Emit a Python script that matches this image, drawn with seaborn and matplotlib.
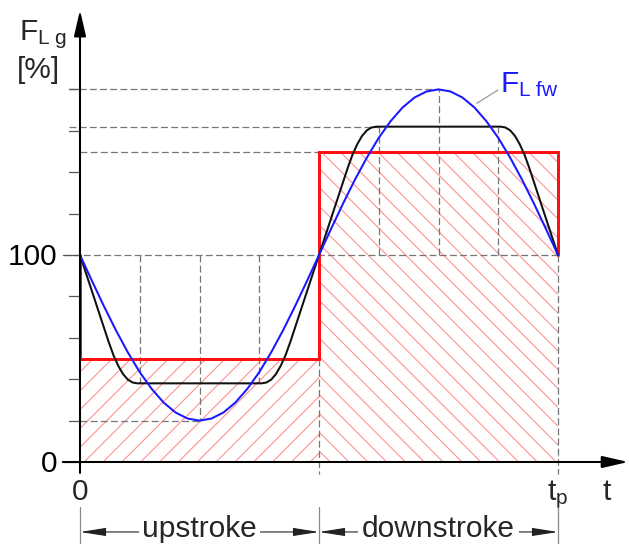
import numpy as np
import pandas as pd
import matplotlib
matplotlib.use("Agg")
import matplotlib.pyplot as plt
import seaborn as sns

# ---------------- data ----------------
blue_t = [0.000, 0.025, 0.050, 0.075, 0.100, 0.125, 0.150, 0.175, 0.200, 0.225, 0.250,
          0.275, 0.300, 0.325, 0.350, 0.375, 0.400, 0.425, 0.450, 0.475, 0.500,
          0.525, 0.550, 0.575, 0.600, 0.625, 0.650, 0.675, 0.700, 0.725, 0.750,
          0.775, 0.800, 0.825, 0.850, 0.875, 0.900, 0.925, 0.950, 0.975, 1.000]
blue_force = [100, 87.5, 75.3, 63.7, 53.0, 43.4, 35.3, 28.7, 23.9, 21.0, 20.0,
              21.0, 23.9, 28.7, 35.3, 43.4, 53.0, 63.7, 75.3, 87.5, 100,
              112.5, 124.7, 136.3, 147.0, 156.6, 164.7, 171.3, 176.1, 179.0, 180.0,
              179.0, 176.1, 171.3, 164.7, 156.6, 147.0, 136.3, 124.7, 112.5, 100]

black_t = [0.00, 0.01, 0.02, 0.03, 0.04, 0.05, 0.06, 0.07, 0.08, 0.09, 0.10, 0.11, 0.12,
           0.38, 0.39, 0.40, 0.41, 0.42, 0.43, 0.44, 0.45, 0.46, 0.47, 0.48, 0.49, 0.50,
           0.51, 0.52, 0.53, 0.54, 0.55, 0.56, 0.57, 0.58, 0.59, 0.60, 0.61, 0.62,
           0.88, 0.89, 0.90, 0.91, 0.92, 0.93, 0.94, 0.95, 0.96, 0.97, 0.98, 0.99, 1.00]
black_force = [100, 93, 86, 79, 72, 65, 58, 51.6, 46.5, 42.5, 39.8, 38.4, 38,
               38, 38.4, 39.8, 42.5, 46.5, 51.6, 58, 65, 72, 79, 86, 93, 100,
               107, 114, 121, 128, 135, 142, 148.4, 153.5, 157.5, 160.2, 161.6, 162,
               162, 161.6, 160.2, 157.5, 153.5, 148.4, 142, 135, 128, 121, 114, 107, 100]

stroke_edges = [0.0, 0.5, 1.0]          # 0, half period, t_p
red_levels = [50, 150]                  # upstroke / downstroke mean level
base_level = 100
y_ticks = [0, 20, 40, 60, 80, 100, 120, 140, 160, 180]
y_tick_labels = ["0", "", "", "", "", "100", "", "", "", ""]
phase_names = ["upstroke", "downstroke"]

# ---------------- style ----------------
sns.set_theme(style="white")
plt.rcParams["font.family"] = ["Liberation Sans", "DejaVu Sans"]
plt.rcParams["mathtext.fontset"] = "custom"
plt.rcParams["mathtext.rm"] = "Liberation Sans"
plt.rcParams["mathtext.it"] = "Liberation Sans"
plt.rcParams["hatch.linewidth"] = 0.65

DPI = 113
XL = (-80 / 478, 549 / 478)
YL = (-82 / 2.07, 462 / 2.07)
fig = plt.figure(figsize=(629 / DPI, 544 / DPI), dpi=DPI)
ax = fig.add_axes([0, 0, 1, 1])

FS = 19
GRAY = "#777777"
DASH = (0, (5.5, 2.6))
dlw = 0.8

# ---------------- hatched areas ----------------
hatch_col = "#ff8a8a"
ax.fill_between(stroke_edges[0:2], 0, red_levels[0], facecolor="none",
                edgecolor=hatch_col, hatch="//", linewidth=0, zorder=1)
ax.fill_between(stroke_edges[1:3], 0, red_levels[1], facecolor="none",
                edgecolor=hatch_col, hatch="\\\\", linewidth=0, zorder=1)

# ---------------- dashed guide lines ----------------
bt = np.array(blue_t); bf = np.array(blue_force)
kt = np.array(black_t); kf = np.array(black_force)
t_peak = bt[np.argmax(bf)]; t_trough = bt[np.argmin(bf)]
top_plateau = kf.max()
t_top0, t_top1, t_bot0, t_bot1 = 0.625, 0.875, 0.125, 0.375

hlines = [(bf.max(), -0.023, t_peak),
          (top_plateau, -0.023, t_top0),
          (red_levels[1], 0.0, stroke_edges[1]),
          (base_level, -0.036, stroke_edges[2]),
          (bf.min(), 0.0, t_trough)]
for lev, a, b in hlines:
    ax.plot([a, b], [lev, lev], color=GRAY, lw=dlw, ls=DASH, zorder=2)

for tv in [t_bot0, t_bot1, t_top0, t_top1]:
    ax.plot([tv, tv], [base_level, np.interp(tv, kt, kf)], color=GRAY, lw=dlw, ls=DASH, zorder=2)
for tv in [t_trough, t_peak]:
    ax.plot([tv, tv], [base_level, np.interp(tv, bt, bf)], color=GRAY, lw=dlw, ls=DASH, zorder=2)

ax.plot([stroke_edges[1]] * 2, [red_levels[0], -6], color=GRAY, lw=dlw, ls=DASH, zorder=2)
ax.plot([stroke_edges[2]] * 2, [base_level, -6], color=GRAY, lw=dlw, ls=DASH, zorder=2)

# ---------------- red mean-level outline ----------------
red_t = [stroke_edges[0], stroke_edges[0], stroke_edges[1], stroke_edges[1], stroke_edges[2], stroke_edges[2]]
red_v = [base_level, red_levels[0], red_levels[0], red_levels[1], red_levels[1], base_level]
ax.plot(red_t, red_v, color="#ff1010", lw=1.9, zorder=3, solid_joinstyle="miter")

# ---------------- curves ----------------
df_black = pd.DataFrame({"t": black_t, "F": black_force})
df_blue = pd.DataFrame({"t": blue_t, "F": blue_force})
sns.lineplot(data=df_black, x="t", y="F", color="#111111", lw=1.3, sort=False,
             estimator=None, ax=ax, zorder=4)
sns.lineplot(data=df_blue, x="t", y="F", color="#1a1aff", lw=1.3, sort=False,
             estimator=None, ax=ax, zorder=5)
ax.axis("off")
ax.set_xlim(*XL)
ax.set_ylim(*YL)

# ---------------- axes with arrows ----------------
arrow_style = "-|>,head_length=1.4,head_width=0.32"
ax.annotate("", xy=(0, 218.4), xytext=(0, -5.3),
            arrowprops=dict(arrowstyle=arrow_style, color="black", lw=1.3,
                            shrinkA=0, shrinkB=0, mutation_scale=10), zorder=6)
ax.annotate("", xy=(1.147, 0), xytext=(-0.036, 0),
            arrowprops=dict(arrowstyle=arrow_style, color="black", lw=1.3,
                            shrinkA=0, shrinkB=0, mutation_scale=10), zorder=6)

# y ticks
for v, lab in zip(y_ticks, y_tick_labels):
    start = -0.036 if lab else -0.024
    ax.plot([start, 0], [v, v], color="#555555", lw=0.8, zorder=5)
    if lab:
        ax.text(-0.047, v - 4.8, lab, ha="right", va="baseline", fontsize=FS, color="black")

# axis labels
ax.text(-0.1275, 203.9, r"$\mathregular{F_{L\ g}}$", ha="left", va="baseline", fontsize=FS)
ax.text(-0.132, 185.5, "[%]", ha="left", va="baseline", fontsize=FS)
ax.text(stroke_edges[0], -18.4, "0", ha="center", va="baseline", fontsize=FS)
ax.text(stroke_edges[2], -18.4, r"$\mathregular{t_p}$", ha="center", va="baseline", fontsize=FS)
ax.text(1.1025, -18.4, "t", ha="center", va="baseline", fontsize=FS)

# blue curve label with leader
ax.plot([0.830, 0.8745], [173.3, 179.7], color="#999999", lw=0.8, zorder=5)
ax.text(0.8787, 178.7, r"$\mathregular{F_{L\ fw}}$", ha="left", va="baseline",
        fontsize=FS, color="#1a1aff")

# ---------------- stroke dimension annotations ----------------
dim_y = -33.8
for e in stroke_edges:
    ax.plot([e, e], [-21.7, -40], color="#8a8a8a", lw=0.8, zorder=5)
dim_style = "-|>,head_length=1.4,head_width=0.22"
for i, name in enumerate(phase_names):
    a, b = stroke_edges[i], stroke_edges[i + 1]
    mid = (a + b) / 2
    for tip in (a, b):
        ax.annotate("", xy=(tip, dim_y), xytext=(mid, dim_y),
                    arrowprops=dict(arrowstyle=dim_style, color="#222222", lw=0.7,
                                    shrinkA=0, shrinkB=0, mutation_scale=10), zorder=6)
    ax.text(mid, -36.2, name, ha="center", va="baseline", fontsize=FS, zorder=8,
            bbox=dict(boxstyle="square,pad=0.12", fc="white", ec="none"))

fig.savefig("out.png", dpi=DPI)
